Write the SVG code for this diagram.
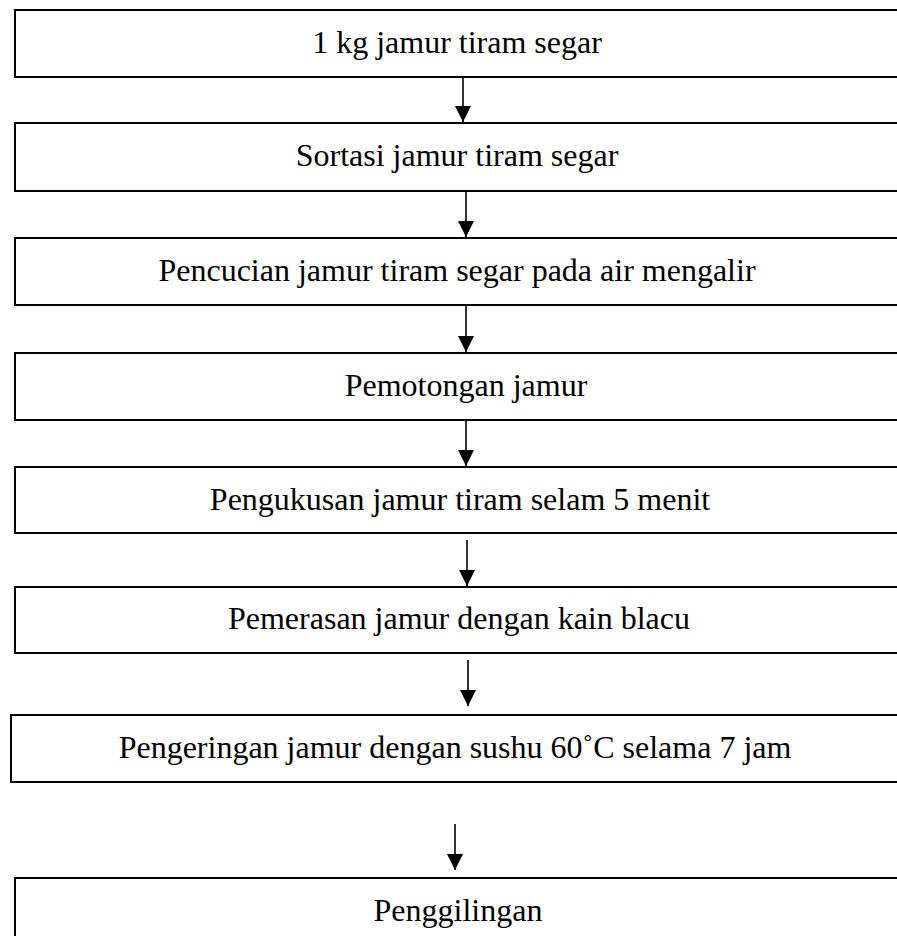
<svg xmlns="http://www.w3.org/2000/svg" width="897" height="936" viewBox="0 0 897 936">
<style>
rect.box{fill:#fff;stroke:#000;stroke-width:2}
text{font-family:"Liberation Serif","Times New Roman",serif;font-size:32px;fill:#000;text-anchor:middle}
line.c{stroke:#000;stroke-width:1.6}
</style>
<defs>
<marker id="ah" markerUnits="userSpaceOnUse" markerWidth="16" markerHeight="16" refX="16" refY="8" orient="auto" viewBox="0 0 16 16">
<path d="M0,0 L16,8 L0,16 Z" fill="#000"/>
</marker>
</defs>
<rect width="897" height="936" fill="#fff"/>
<g id="n1"><rect class="box" x="15" y="10" width="890" height="67"/><text x="457" y="53">1 kg jamur tiram segar</text></g>
<g id="n2"><rect class="box" x="15" y="123" width="890" height="68"/><text x="457" y="166">Sortasi jamur tiram segar</text></g>
<g id="n3"><rect class="box" x="15" y="238" width="890" height="67"/><text x="457" y="281">Pencucian jamur tiram segar pada air mengalir</text></g>
<g id="n4"><rect class="box" x="15" y="353" width="890" height="67"/><text x="466" y="396">Pemotongan jamur</text></g>
<g id="n5"><rect class="box" x="15" y="467" width="890" height="66"/><text x="460" y="510">Pengukusan jamur tiram selam 5 menit</text></g>
<g id="n6"><rect class="box" x="15" y="587" width="890" height="66"/><text x="459" y="629">Pemerasan jamur dengan kain blacu</text></g>
<g id="n7"><rect class="box" x="11" y="715" width="894" height="67"/><text x="455" y="758">Pengeringan jamur dengan sushu 60˚C selama 7 jam</text></g>
<g id="n8"><rect class="box" x="15" y="878" width="890" height="70"/><text x="458" y="921">Penggilingan</text></g>
<g id="connectors">
<line class="c" x1="463" y1="78" x2="463" y2="122" marker-end="url(#ah)"/>
<line class="c" x1="466" y1="192" x2="466" y2="237" marker-end="url(#ah)"/>
<line class="c" x1="466" y1="306" x2="466" y2="352" marker-end="url(#ah)"/>
<line class="c" x1="466" y1="421" x2="466" y2="466" marker-end="url(#ah)"/>
<line class="c" x1="467" y1="540" x2="467" y2="586" marker-end="url(#ah)"/>
<line class="c" x1="468" y1="660" x2="468" y2="706" marker-end="url(#ah)"/>
<line class="c" x1="455" y1="824" x2="455" y2="870" marker-end="url(#ah)"/>
</g>
</svg>
